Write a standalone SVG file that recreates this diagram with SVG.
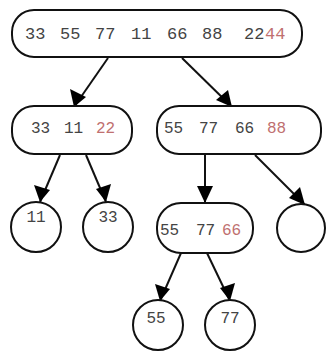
<svg xmlns="http://www.w3.org/2000/svg" width="326" height="352" viewBox="0 0 326 352">
<style>
.n{fill:#fff;stroke:#111;stroke-width:2}
.t{font-family:"Liberation Mono","DejaVu Sans Mono",monospace;font-size:16px;fill:#444}
.r{fill:#c07070}
.e{stroke:#111;stroke-width:2;fill:none}
.h{fill:#000}
</style>
<rect width="326" height="352" fill="#fff"/>
<g id="edges">
<line class="e" x1="108" y1="58" x2="74" y2="107"/>
<path class="h" d="M74,107 L70,89 L86,97 z"/>
<line class="e" x1="182" y1="58" x2="232" y2="107"/>
<path class="h" d="M232,107 L216,100 L228,90 z"/>
<line class="e" x1="60" y1="155" x2="40" y2="202"/>
<path class="h" d="M40,202 L34,185 L50,190 z"/>
<line class="e" x1="86" y1="155" x2="106" y2="202"/>
<path class="h" d="M106,202 L96,189 L111,184 z"/>
<line class="e" x1="205" y1="155" x2="205" y2="203"/>
<path class="h" d="M205,203 L197,186 L213,186 z"/>
<line class="e" x1="255" y1="155" x2="305" y2="205"/>
<path class="h" d="M305,205 L289,198 L300,187 z"/>
<line class="e" x1="181" y1="253" x2="160" y2="301"/>
<path class="h" d="M160,301 L155,284 L170,289 z"/>
<line class="e" x1="207" y1="253" x2="230" y2="301"/>
<path class="h" d="M230,301 L220,288 L235,283 z"/>
</g>
<g id="n0">
<rect class="n" x="12" y="10" width="290" height="47" rx="22"/>
<text class="t" y="39" style="font-size:17px"><tspan x="25">33</tspan><tspan x="60">55</tspan><tspan x="95">77</tspan><tspan x="131">11</tspan><tspan x="167">66</tspan><tspan x="202">88</tspan><tspan x="244">22</tspan><tspan x="265" class="r">44</tspan></text>
</g>
<g id="n1">
<rect class="n" x="12" y="106" width="120" height="48" rx="22"/>
<text class="t" y="133"><tspan x="31">33</tspan><tspan x="64">11</tspan><tspan x="96" class="r">22</tspan></text>
</g>
<g id="n2">
<rect class="n" x="157" y="106" width="164" height="48" rx="22"/>
<text class="t" y="133"><tspan x="164">55</tspan><tspan x="199">77</tspan><tspan x="235">66</tspan><tspan x="267" class="r">88</tspan></text>
</g>
<g id="n3">
<circle class="n" cx="36" cy="227" r="25"/>
<text class="t" x="36" y="222" text-anchor="middle">11</text>
</g>
<g id="n4">
<circle class="n" cx="108" cy="227" r="25"/>
<text class="t" x="108" y="222" text-anchor="middle">33</text>
</g>
<g id="n5">
<rect class="n" x="157" y="203" width="96" height="50" rx="24"/>
<text class="t" y="235"><tspan x="160">55</tspan><tspan x="196">77</tspan><tspan x="222" class="r">66</tspan></text>
</g>
<g id="n6">
<circle class="n" cx="301" cy="228" r="24"/>
</g>
<g id="n7">
<circle class="n" cx="158" cy="325" r="25"/>
<text class="t" x="156" y="323" text-anchor="middle">55</text>
</g>
<g id="n8">
<circle class="n" cx="230" cy="325" r="25"/>
<text class="t" x="230" y="323" text-anchor="middle">77</text>
</g>
</svg>
